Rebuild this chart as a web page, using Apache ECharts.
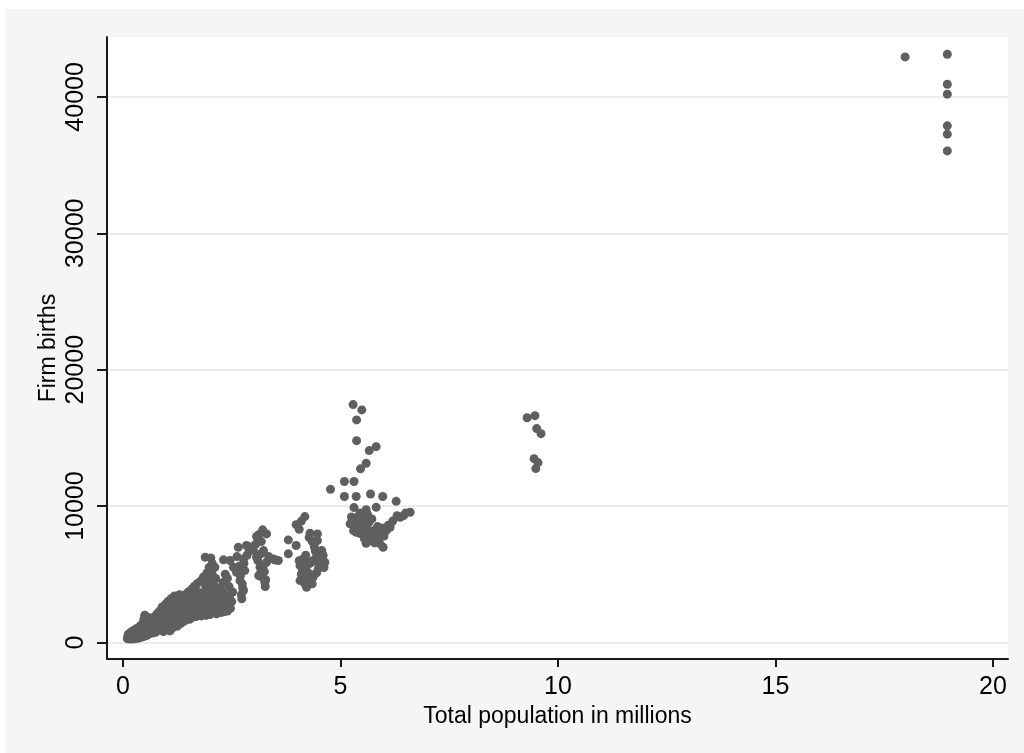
<!DOCTYPE html>
<html>
<head>
<meta charset="utf-8">
<script src="https://cdn.jsdelivr.net/npm/echarts@6/dist/echarts.min.js"></script>
<style>
  html, body { margin: 0; padding: 0; background: #ffffff; }
  #chart { position: absolute; left: 5px; top: 9px; width: 1019px; height: 744px; }
</style>
</head>
<body>
<div id="chart"></div>
<script>
// Axis titles and tick positions
const xTitle = 'Total population in millions';
const yTitle = 'Firm births';
const xTicks = [0, 5, 10, 15, 20];
const yTicks = [0, 10000, 20000, 30000, 40000];

// Population (millions) vs. firm births, one entry per area-year
const smallAreas = [
  [0.10,280],[0.11,420],[0.12,600],[0.13,350],[0.14,520],[0.15,260],[0.16,700],[0.17,450],
  [0.18,330],[0.19,580],[0.20,800],[0.21,380],[0.22,520],[0.23,260],[0.24,680],[0.25,900],
  [0.26,450],[0.27,320],[0.28,600],[0.29,760],[0.30,1000],[0.31,420],[0.32,560],[0.33,300],
  [0.34,850],[0.35,650],[0.36,1100],[0.37,480],[0.38,350],[0.39,920],[0.40,720],[0.41,1250],
  [0.42,540],[0.43,400],[0.44,1050],[0.45,820],[0.46,1400],[0.47,620],[0.48,1700],[0.49,450],
  [0.50,2000],[0.51,950],[0.52,1200],[0.53,700],[0.54,1550],[0.55,520],[0.56,1850],[0.58,1000],
  [0.60,1350],[0.61,650],[0.62,1600],[0.64,850],[0.65,1150],[0.66,1800],[0.68,700],[0.70,1450],
  [0.72,1000],[0.73,1900],[0.75,750],[0.76,1250],[0.78,2100],[0.80,1600],[0.81,900],[0.83,1350],
  [0.84,2300],[0.86,1050],[0.88,1800],[0.90,2600],[0.91,1200],[0.93,800],[0.94,2100],[0.96,1500],
  [0.98,2800],[1.00,1000],[1.01,1900],[1.03,3000],[1.05,1300],[1.06,2400],[1.08,850],[1.10,3200],
  [1.11,1700],[1.13,2200],[1.15,1100],[1.16,2800],[1.18,3400],[1.20,1500],[1.21,2000],[1.23,2600],
  [1.25,1200],[1.26,3100],[1.28,1800],[1.30,3500],[1.31,2300],[1.33,1400],[1.35,2800],[1.36,1900],
  [1.38,3300],[1.40,1550],[1.41,2500],[1.43,3500],[1.45,2100],[1.46,1700],[1.48,2900],[1.50,3700],
  [1.51,2300],[1.53,1700],[1.55,3200],[1.56,2600],[1.58,3900],[1.60,1850],[1.61,2900],[1.63,4100],
  [1.65,2300],[1.66,3400],[1.68,1900],[1.70,4300],[1.71,2700],[1.73,3700],[1.75,2100],[1.76,3100],
  [1.78,4500],[1.80,1950],[1.81,2500],[1.83,3600],[1.85,4800],[1.86,2200],[1.88,3000],[1.90,4100],
  [1.91,2000],[1.93,5100],[1.95,2600],[1.96,3400],[1.98,4500],[2.00,2050],[2.01,3800],[2.03,2900],
  [2.05,5000],[2.06,2300],[2.08,4300],[2.10,3300],[2.11,2600],[2.13,4700],[2.15,2100],[2.16,3600],
  [2.18,2900],[2.20,4000],[2.21,2400],[2.23,3300],[2.25,2200],[2.27,3800],[2.28,2700],[2.30,4400],
  [2.32,2250],[2.34,3100],[2.36,2600],[2.38,3500],[2.40,2300],[2.42,2900],[2.44,4100],[2.45,3300],
  [2.47,2500],[2.50,3000],[2.52,3700],[2.40,4700],[2.35,5000],[2.02,6200],[1.98,5500],[2.05,5800]
];

const midAreas = [
  [3.21,8260],[3.30,7960],[3.07,7770],[2.84,7110],[2.65,6980],[3.00,6740],[3.23,6740],[3.07,6250],
  [3.46,6130],[3.57,6010],[3.30,5880],[3.15,5520],[3.15,5030],[3.26,4420],[2.77,6130],[2.80,5270],
  [2.69,4540],[2.77,3810],[2.73,3200],[2.46,6010],[2.31,6060],[2.54,5520],[2.61,5150],[1.89,6250],
  [2.11,5520],[2.75,4000],[2.70,4900],[2.78,5800],[2.72,3500],[2.85,6400],[3.20,4800],[3.25,5200],
  [3.10,6000],[3.28,4600],[3.18,7400],[3.35,6300],[2.62,6300],[2.68,5600],[2.74,4300],[2.90,6800],
  [2.95,7000],[3.05,7200],[3.12,7900],[3.17,6500],[3.22,5600],[3.38,6150],[3.50,6050],[3.27,4100],
  [3.12,4900],
  [4.18,9230],[3.98,8640],[4.30,8010],[4.47,7960],[3.80,7520],[3.98,7110],[3.80,6500],[4.47,7470],
  [4.57,6740],[4.64,5880],[4.37,6010],[4.14,6130],[4.07,5640],[4.22,5270],[4.07,4540],[4.22,4050],
  [4.37,4780],[4.49,5400],[4.40,7000],[4.45,6300],[4.30,5800],[4.25,4500],[4.10,5000],[4.50,5700],
  [4.55,6200],[4.35,4300],[4.15,4700],[4.05,8300],[4.10,8900],[4.28,7700],[4.35,7400],[4.42,6700],
  [4.52,6600],[4.60,6400],[4.62,5500],[4.20,6400],[4.25,5900],[4.30,5000],[4.18,4300],[4.12,5400],
  [4.45,5100],[4.05,6000]
];

const largeAreas = [
  [5.29,17440],[5.49,17050],[5.37,16320],[5.37,14800],[5.66,14070],[5.82,14360],[5.46,12730],
  [5.59,13140],[5.09,11800],[5.31,11800],[4.77,11230],[5.09,10700],[5.36,10700],[5.69,10890],
  [5.97,10700],[6.28,10350],[5.31,9890],[5.59,9740],[5.82,9910],[5.26,8740],[5.49,8450],
  [5.72,9060],[5.91,7960],[5.59,7270],[5.91,7230],[5.98,6980],[6.14,8450],[6.37,9180],
  [6.60,9550],[5.45,7990],[5.36,8080],[5.22,8700],[5.40,9200],[5.50,8900],[5.35,8600],
  [5.60,8300],[5.45,9500],[5.65,8800],[5.75,8200],[5.80,7700],[5.55,7600],[5.70,7500],
  [6.00,7800],[6.05,8200],[6.10,8600],[6.20,8900],[6.30,9300],[6.45,9300],[6.50,9500],
  [5.25,9200],[5.30,8200],[5.42,8800],[5.52,9300],[5.62,9400],[5.68,8000],[5.85,8500],
  [5.95,8400],[5.50,8100],[5.78,7300],[5.88,7600],
  [9.29,16480],[9.47,16630],[9.51,15680],[9.61,15310],[9.45,13480],[9.54,13190],[9.49,12750],
  [17.98,42930],[18.95,43130],[18.95,40930],[18.95,40200],[18.95,37880],[18.95,37270],[18.95,36040]
];

const points = smallAreas.concat(midAreas, largeAreas);

const textFont = '"Liberation Sans", Arial, sans-serif';
const chart = echarts.init(document.getElementById('chart'));

chart.setOption({
  backgroundColor: '#f5f5f5',
  animation: false,
  grid: {
    left: 102, right: 16, top: 28, bottom: 94,
    show: true, backgroundColor: '#ffffff', borderWidth: 0
  },
  xAxis: {
    type: 'value',
    min: -0.368, max: 20.345,
    name: xTitle,
    nameLocation: 'middle',
    nameGap: 46,
    nameMoveOverlap: false,
    nameTextStyle: { color: '#000', fontSize: 23, fontFamily: textFont },
    axisLine: { show: true, onZero: false, lineStyle: { color: '#1a1a1a', width: 2 } },
    axisTick: { show: true, length: 8, customValues: xTicks, lineStyle: { color: '#1a1a1a', width: 2 } },
    axisLabel: { customValues: xTicks, margin: 16, color: '#000', fontSize: 25, fontFamily: textFont },
    splitLine: { show: false }
  },
  yAxis: {
    type: 'value',
    min: -1210, max: 44392,
    name: yTitle,
    nameLocation: 'middle',
    nameGap: 47,
    nameMoveOverlap: false,
    nameTextStyle: { color: '#000', fontSize: 23, fontFamily: textFont },
    axisLine: { show: true, onZero: false, lineStyle: { color: '#1a1a1a', width: 2 } },
    axisTick: { show: true, length: 10, customValues: yTicks, lineStyle: { color: '#1a1a1a', width: 2 } },
    axisLabel: {
      customValues: yTicks, rotate: 90, margin: 18, color: '#000', fontSize: 25, fontFamily: textFont,
      formatter: function (v) { return String(v); }
    },
    splitLine: { show: true, lineStyle: { color: '#ececec', width: 2 } }
  },
  series: [{
    type: 'scatter',
    data: points,
    symbol: 'circle',
    symbolSize: 9,
    itemStyle: { color: '#5f5f5f', opacity: 1 },
    emphasis: { disabled: true }
  }]
});
</script>
</body>
</html>
